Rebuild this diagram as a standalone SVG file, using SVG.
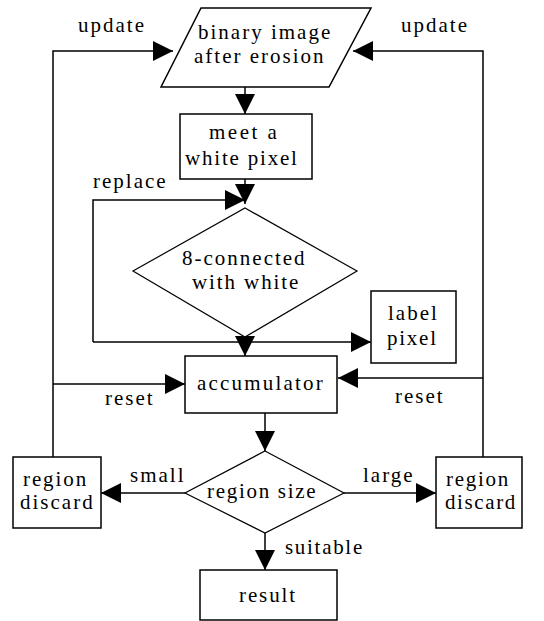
<svg xmlns="http://www.w3.org/2000/svg" width="544" height="621" viewBox="0 0 544 621">
<style>
.b{fill:#fff;stroke:#000;stroke-width:1.5}
.d{fill:#fff;stroke:#000;stroke-width:1.2}
.c{fill:none;stroke:#000;stroke-width:1.5}
text{fill:#000;font-family:'Liberation Serif','Times New Roman',serif;font-size:21px;letter-spacing:2px}
</style>
<defs>
<marker id="ah" markerUnits="userSpaceOnUse" markerWidth="20" markerHeight="20" refX="20" refY="10" orient="auto">
<path d="M0,0 L20,10 L0,20 z" fill="#000"/>
</marker>
</defs>
<rect width="544" height="621" fill="#fff"/>
<g id="connectors">
<path class="c" d="M245,87 V114" marker-end="url(#ah)"/>
<path class="c" d="M245,179 V204" marker-end="url(#ah)"/>
<path class="c" d="M93,342 V200 H245" marker-end="url(#ah)"/>
<path class="c" d="M93,342 H371" marker-end="url(#ah)"/>
<path class="c" d="M245,337 V356" marker-end="url(#ah)"/>
<path class="c" d="M53,457 V51 H173" marker-end="url(#ah)"/>
<path class="c" d="M483,457 V51 H353" marker-end="url(#ah)"/>
<path class="c" d="M53,384 H185" marker-end="url(#ah)"/>
<path class="c" d="M483,378 H338" marker-end="url(#ah)"/>
<path class="c" d="M265,413 V451" marker-end="url(#ah)"/>
<path class="c" d="M185,493 H101" marker-end="url(#ah)"/>
<path class="c" d="M344,493 H436" marker-end="url(#ah)"/>
<path class="c" d="M265,533 V570" marker-end="url(#ah)"/>
<text x="78" y="32">update</text>
<text x="401" y="32">update</text>
<text x="93" y="188">replace</text>
<text x="105" y="405">reset</text>
<text x="395" y="403">reset</text>
<text x="130" y="482">small</text>
<text x="363" y="482">large</text>
<text x="285" y="554" style="letter-spacing:1.7px">suitable</text>
</g>
<g id="input">
<polygon class="b" points="201,8 371,8 329,87 161,87"/>
<text x="198" y="39">binary image</text>
<text x="194" y="63">after erosion</text>
</g>
<g id="meet">
<rect class="b" x="180" y="114" width="132" height="65"/>
<text x="209" y="139" style="letter-spacing:2.5px">meet a</text>
<text x="185" y="165" style="letter-spacing:1.8px">white pixel</text>
</g>
<g id="connected">
<polygon class="d" points="245,208 357,271 245,337 133,271"/>
<text x="182" y="265">8-connected</text>
<text x="192" y="289" style="letter-spacing:1.9px">with white</text>
</g>
<g id="label">
<rect class="b" x="371" y="291" width="85" height="72"/>
<text x="388" y="320">label</text>
<text x="387" y="345" style="letter-spacing:1.75px">pixel</text>
</g>
<g id="accumulator">
<rect class="b" x="185" y="356" width="152" height="57"/>
<text x="197" y="390" style="letter-spacing:2.2px">accumulator</text>
</g>
<g id="size">
<polygon class="d" points="265,451 344,493 265,533 185,493"/>
<text x="207" y="498" style="letter-spacing:1.7px">region size</text>
</g>
<g id="discard-left">
<rect class="b" x="13" y="457" width="88" height="71"/>
<text x="23" y="486" style="letter-spacing:1.9px">region</text>
<text x="20" y="509">discard</text>
</g>
<g id="discard-right">
<rect class="b" x="436" y="457" width="86" height="71"/>
<text x="446" y="486" style="letter-spacing:1.7px">region</text>
<text x="445" y="509" style="letter-spacing:1.6px">discard</text>
</g>
<g id="result">
<rect class="b" x="200" y="570" width="137" height="50"/>
<text x="239" y="602" style="letter-spacing:1.9px">result</text>
</g>
</svg>
